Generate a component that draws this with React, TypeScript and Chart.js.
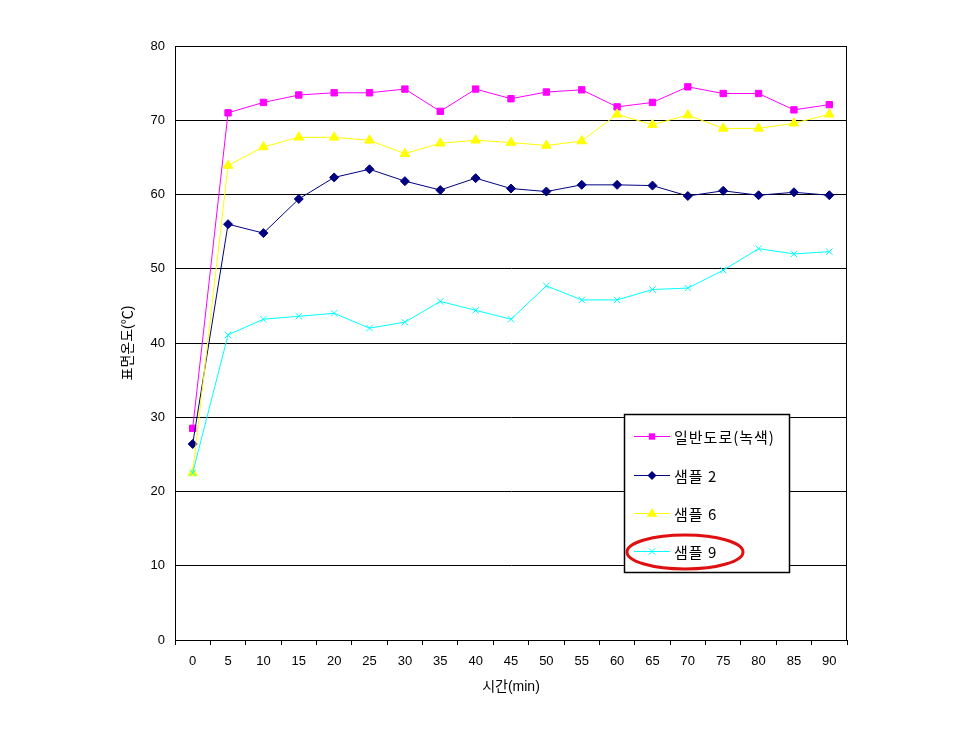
import React, { useEffect, useRef } from "react";
import { Chart, registerables } from "chart.js";

Chart.register(...registerables);

const minutes = ["0", "5", "10", "15", "20", "25", "30", "35", "40", "45", "50", "55", "60", "65", "70", "75", "80", "85", "90"];
const roadValues = [28.5, 71.0, 72.4, 73.4, 73.7, 73.7, 74.2, 71.2, 74.2, 72.9, 73.8, 74.1, 71.8, 72.4, 74.5, 73.6, 73.6, 71.4, 72.1];
const sample2Values = [26.4, 56.0, 54.8, 59.4, 62.3, 63.4, 61.8, 60.6, 62.2, 60.8, 60.4, 61.3, 61.3, 61.2, 59.8, 60.5, 59.9, 60.3, 59.9];
const sample6Values = [22.5, 63.9, 66.4, 67.7, 67.7, 67.3, 65.5, 66.9, 67.3, 67.0, 66.6, 67.2, 70.8, 69.4, 70.7, 68.9, 68.9, 69.6, 70.8];
const sample9Values = [22.5, 41.1, 43.2, 43.6, 44.0, 42.0, 42.8, 45.6, 44.4, 43.2, 47.7, 45.8, 45.8, 47.2, 47.4, 49.8, 52.7, 52.0, 52.3];
const seriesLabels = ["일반도로(녹색)", "샘플 2", "샘플 6", "샘플 9"];

const FONT = "'Liberation Sans', 'Noto Sans CJK KR', sans-serif";

function drawMarker(ctx: CanvasRenderingContext2D, style: string, r: number, x: number, y: number, color: string) {
  ctx.save();
  ctx.fillStyle = color;
  ctx.strokeStyle = color;
  ctx.lineWidth = 1;
  ctx.beginPath();
  if (style === "rect") {
    const s = r * Math.SQRT1_2 * 2;
    ctx.rect(x - s / 2, y - s / 2, s, s);
    ctx.fill();
  } else if (style === "rectRot") {
    ctx.moveTo(x, y - r);
    ctx.lineTo(x + r, y);
    ctx.lineTo(x, y + r);
    ctx.lineTo(x - r, y);
    ctx.closePath();
    ctx.fill();
  } else if (style === "triangle") {
    const h = r * 1.5;
    ctx.moveTo(x, y - r);
    ctx.lineTo(x + r * 0.95, y + r * 0.6);
    ctx.lineTo(x - r * 0.95, y + r * 0.6);
    ctx.closePath();
    ctx.fill();
    void h;
  } else {
    const d = r * Math.SQRT1_2;
    ctx.moveTo(x - d, y - d);
    ctx.lineTo(x + d, y + d);
    ctx.moveTo(x + d, y - d);
    ctx.lineTo(x - d, y + d);
    ctx.stroke();
  }
  ctx.restore();
}

const frameAndLegend = {
  id: "frameAndLegend",
  afterDraw(chart: any) {
    const ctx = chart.ctx;
    const { left, right, top, bottom } = chart.chartArea;
    ctx.save();
    ctx.strokeStyle = "#000";
    ctx.lineWidth = 1;
    ctx.strokeRect(Math.round(left) + 0.5, Math.round(top) + 0.5, Math.round(right - left) - 1, Math.round(bottom - top));

    // legend box
    const bx = 624, by = 414, bw = 165, bh = 158;
    ctx.fillStyle = "#fff";
    ctx.fillRect(bx, by, bw, bh);
    ctx.strokeStyle = "#000";
    ctx.lineWidth = 1.5;
    ctx.strokeRect(bx + 0.5, by + 0.5, bw, bh);

    const rows = [436, 475, 513, 551];
    chart.data.datasets.forEach((ds: any, i: number) => {
      const y = rows[i];
      ctx.strokeStyle = ds.borderColor;
      ctx.lineWidth = 1;
      ctx.beginPath();
      ctx.moveTo(634, y + 0.5);
      ctx.lineTo(670, y + 0.5);
      ctx.stroke();
      drawMarker(ctx, ds.pointStyle, ds.pointRadius, 652, y + 0.5, ds.pointBackgroundColor);
      ctx.fillStyle = "#000";
      ctx.font = "15px 'Noto Sans CJK KR', sans-serif";
      (ctx as any).letterSpacing = "1px";
      ctx.textBaseline = "middle";
      ctx.textAlign = "left";
      ctx.fillText(seriesLabels[i], 674, y + 1);
      (ctx as any).letterSpacing = "0px";
    });

    // red ellipse around last entry
    ctx.strokeStyle = "#e01010";
    ctx.lineWidth = 3;
    ctx.beginPath();
    ctx.ellipse(685, 552, 58, 17, 0, 0, Math.PI * 2);
    ctx.stroke();
    ctx.restore();
  },
};

export default function App() {
  const ref = useRef<HTMLCanvasElement | null>(null);

  useEffect(() => {
    if (!ref.current) return;
    const mk = (label: string, data: number[], color: string, style: string, r: number) => ({
      label,
      data,
      borderColor: color,
      backgroundColor: color,
      pointBackgroundColor: color,
      pointBorderColor: color,
      pointStyle: style,
      pointRadius: r,
      pointHoverRadius: r,
      borderWidth: 1,
      pointBorderWidth: 1,
      tension: 0,
      fill: false,
    });
    const chart = new Chart(ref.current, {
      type: "line",
      data: {
        labels: minutes,
        datasets: [
          { ...mk(seriesLabels[0], roadValues, "#ff00ff", "rect", 4.5), order: 4 },
          { ...mk(seriesLabels[1], sample2Values, "#000080", "rectRot", 4.5), order: 3 },
          { ...mk(seriesLabels[2], sample6Values, "#ffff00", "triangle", 5.5), order: 2 },
          { ...mk(seriesLabels[3], sample9Values, "#00ffff", "crossRot", 4.5), order: 1 },
        ] as any,
      },
      options: {
        animation: false,
        responsive: false,
        maintainAspectRatio: false,
        devicePixelRatio: 1,
        layout: { padding: { left: 116, right: 112, top: 46, bottom: 39 } },
        plugins: {
          legend: { display: false },
          tooltip: { enabled: false },
        },
        scales: {
          x: {
            type: "category",
            offset: true,
            grid: {
              offset: true,
              drawOnChartArea: false,
              drawTicks: true,
              tickLength: 5,
              color: "#000",
            },
            border: { color: "#000", width: 1 },
            ticks: {
              color: "#000",
              font: { family: FONT, size: 13 },
              padding: 9,
              maxRotation: 0,
              autoSkip: false,
            },
            title: {
              display: true,
              text: "시간(min)",
              color: "#000",
              font: { family: FONT, size: 14 },
              padding: { top: 0, bottom: 4 },
            },
            afterFit: (s: any) => {
              s.height = 60;
            },
          },
          y: {
            min: 0,
            max: 80,
            ticks: {
              stepSize: 10,
              color: "#000",
              font: { family: FONT, size: 13 },
              padding: 10,
            },
            grid: { color: "#000", lineWidth: 1, drawTicks: false },
            border: { color: "#000", width: 1 },
            title: {
              display: true,
              text: "표면온도(℃)",
              color: "#000",
              font: { family: FONT, size: 14 },
              padding: { top: 4, bottom: 0 },
            },
            afterFit: (s: any) => {
              s.width = 59;
            },
          },
        },
      } as any,
      plugins: [frameAndLegend],
    });
    return () => chart.destroy();
  }, []);

  return (
    <div style={{ position: "fixed", left: 0, top: 0, width: 959, height: 739, background: "#fff" }}>
      <canvas ref={ref} width={959} height={739} style={{ width: 959, height: 739, display: "block" }} />
    </div>
  );
}
